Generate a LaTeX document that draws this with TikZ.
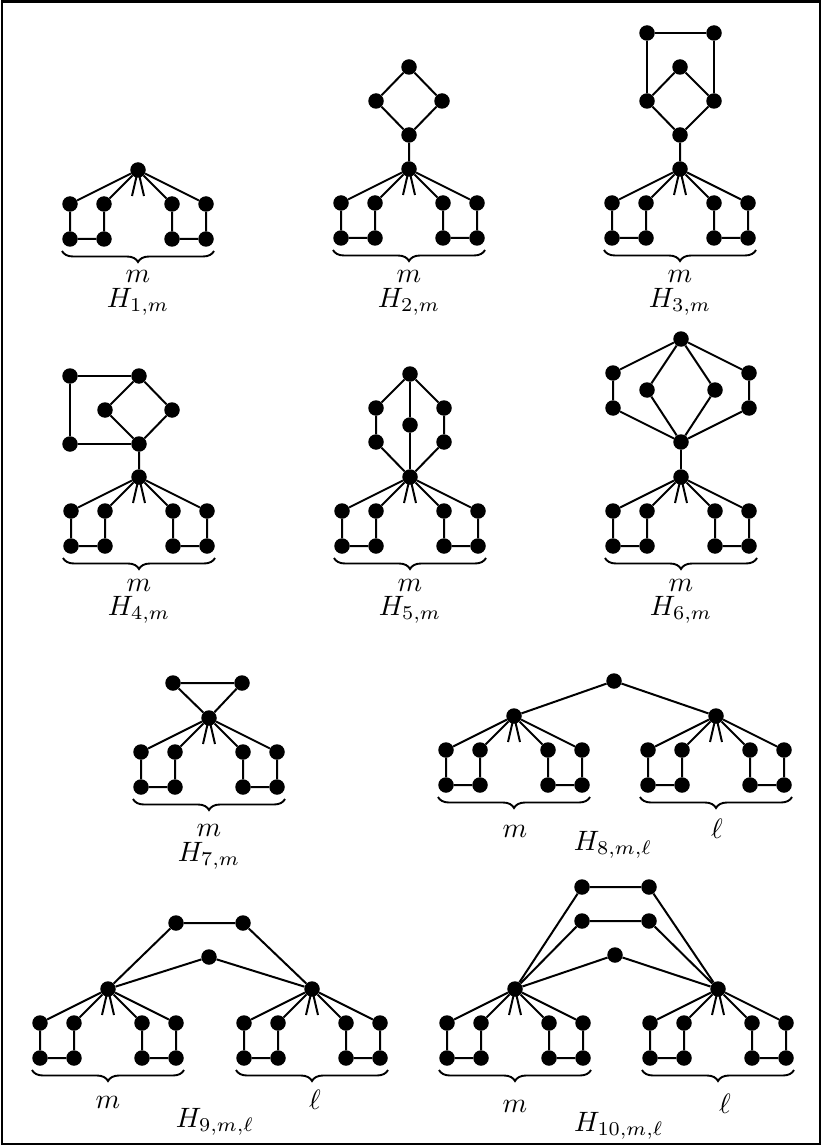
\documentclass[tikz,border=0pt]{standalone}
\usepackage{graphicx}
\usetikzlibrary{decorations.pathreplacing}
% enlarged math labels
\newcommand\biglabel[1]{\scalebox{2.8}{$#1$}}
\begin{document}
\begin{tikzpicture}[x=1pt,y=-1pt,
  dot/.style={circle,fill=black,inner sep=0pt,minimum size=15.5pt},
  edge/.style={line width=2pt},
  bracestyle/.style={decorate,decoration={brace,mirror,amplitude=11pt},line width=1.9pt},
  lbl/.style={inner sep=0pt},
  pics/fan/.style={code={
    \node[dot] (-h) at (0,0) {};
    \foreach \i/\xx in {1/-68,2/-34,3/34,4/68}{
      \node[dot] (-a\i) at (\xx,34) {};
      \node[dot] (-b\i) at (\xx,69) {};
    }
    \draw[edge] (-h) -- (-a1) -- (-b1) -- (-b2) -- (-a2) -- (-h)
                -- (-a3) -- (-b3) -- (-b4) -- (-a4) -- (-h);
    \coordinate (-s1) at (-6,26);
    \coordinate (-s2) at (6,26);
    \draw[edge] (-h.center) -- (-s1) (-h.center) -- (-s2);
    \draw[bracestyle] (-76,81) -- (76,81);
  }}]
\useasboundingbox (0,0) rectangle (823,1147);
\draw[line width=2.2pt] (2,1.5) rectangle (820,1144);

% ---------- H_{1,m}
\pic (f1) at (138,170) {fan};
\node[lbl] (m1) at (138,276) {\biglabel{m}};
\node[lbl] (t1) at (138,302) {\biglabel{H_{1,m}}};

% ---------- H_{2,m}
\pic (f2) at (409,169) {fan};
\node[dot] (d2b) at (409,135) {};
\node[dot] (d2l) at (376,101) {};
\node[dot] (d2r) at (442,101) {};
\node[dot] (d2t) at (409,67) {};
\draw[edge] (f2-h) -- (d2b) -- (d2l) -- (d2t) -- (d2r) -- (d2b);
\node[lbl] (m2) at (409,276) {\biglabel{m}};
\node[lbl] (t2) at (409,302) {\biglabel{H_{2,m}}};

% ---------- H_{3,m}
\pic (f3) at (680,169) {fan};
\node[dot] (d3b) at (680,135) {};
\node[dot] (d3l) at (647,101) {};
\node[dot] (d3r) at (714,101) {};
\node[dot] (d3t) at (680,67) {};
\node[dot] (q3l) at (647,33) {};
\node[dot] (q3r) at (714,33) {};
\draw[edge] (f3-h) -- (d3b) -- (d3l) -- (d3t) -- (d3r) -- (d3b);
\draw[edge] (d3l) -- (q3l) -- (q3r) -- (d3r);
\node[lbl] (m3) at (680,276) {\biglabel{m}};
\node[lbl] (t3) at (680,302) {\biglabel{H_{3,m}}};

% ---------- H_{4,m}
\pic (f4) at (139,477) {fan};
\node[dot] (d4b) at (139,444) {};
\node[dot] (d4l) at (105,410) {};
\node[dot] (d4r) at (172,410) {};
\node[dot] (d4t) at (139,376) {};
\node[dot] (q4t) at (70,376) {};
\node[dot] (q4b) at (70,444) {};
\draw[edge] (f4-h) -- (d4b) -- (d4l) -- (d4t) -- (d4r) -- (d4b);
\draw[edge] (d4t) -- (q4t) -- (q4b) -- (d4b);
\node[lbl] (m4) at (139,585) {\biglabel{m}};
\node[lbl] (t4) at (139,610) {\biglabel{H_{4,m}}};

% ---------- H_{5,m}
\pic (f5) at (410,477) {fan};
\node[dot] (p5t) at (410,374) {};
\node[dot] (p5a) at (376,408) {};
\node[dot] (p5b) at (376,442) {};
\node[dot] (p5m) at (410,425) {};
\node[dot] (p5c) at (444,408) {};
\node[dot] (p5d) at (444,442) {};
\draw[edge] (p5t) -- (p5a) -- (p5b) -- (f5-h);
\draw[edge] (p5t) -- (p5m) -- (f5-h);
\draw[edge] (p5t) -- (p5c) -- (p5d) -- (f5-h);
\node[lbl] (m5) at (410,585) {\biglabel{m}};
\node[lbl] (t5) at (410,610) {\biglabel{H_{5,m}}};

% ---------- H_{6,m}
\pic (f6) at (681,477) {fan};
\node[dot] (p6t) at (681,339) {};
\node[dot] (p6a) at (613,373) {};
\node[dot] (p6b) at (613,408) {};
\node[dot] (p6l) at (647,390) {};
\node[dot] (p6r) at (715,390) {};
\node[dot] (p6c) at (749,373) {};
\node[dot] (p6d) at (749,408) {};
\node[dot] (p6j) at (681,442) {};
\draw[edge] (p6t) -- (p6a) -- (p6b) -- (p6j);
\draw[edge] (p6t) -- (p6l) -- (p6j);
\draw[edge] (p6t) -- (p6r) -- (p6j);
\draw[edge] (p6t) -- (p6c) -- (p6d) -- (p6j);
\draw[edge] (p6j) -- (f6-h);
\node[lbl] (m6) at (681,585) {\biglabel{m}};
\node[lbl] (t6) at (681,610) {\biglabel{H_{6,m}}};

% ---------- H_{7,m}
\pic (f7) at (209,718) {fan};
\node[dot] (k7a) at (173,683) {};
\node[dot] (k7b) at (242,683) {};
\draw[edge] (f7-h) -- (k7a) -- (k7b) -- (f7-h);
\node[lbl] (m7) at (209,830) {\biglabel{m}};
\node[lbl] (t7) at (209,856) {\biglabel{H_{7,m}}};

% ---------- H_{8,m,l}
\pic (f8a) at (514,716) {fan};
\pic (f8b) at (716,716) {fan};
\node[dot] (r8) at (614,681) {};
\draw[edge] (f8a-h) -- (r8) -- (f8b-h);
\node[lbl] (m8) at (515,831) {\biglabel{m}};
\node[lbl] (l8) at (717,829) {\biglabel{\ell}};
\node[lbl] (t8) at (613,845) {\biglabel{H_{8,m,\ell}}};

% ---------- H_{9,m,l}
\pic (f9a) at (108,989) {fan};
\pic (f9b) at (312,989) {fan};
\node[dot] (u9a) at (176,923) {};
\node[dot] (u9b) at (243,923) {};
\node[dot] (v9) at (209,957) {};
\draw[edge] (f9a-h) -- (u9a) -- (u9b) -- (f9b-h);
\draw[edge] (f9a-h) -- (v9) -- (f9b-h);
\node[lbl] (m9) at (108,1102) {\biglabel{m}};
\node[lbl] (l9) at (315,1100) {\biglabel{\ell}};
\node[lbl] (t9) at (215,1122) {\biglabel{H_{9,m,\ell}}};

% ---------- H_{10,m,l}
\pic (f10a) at (515,989) {fan};
\pic (f10b) at (718,989) {fan};
\node[dot] (w10a) at (582,887) {};
\node[dot] (w10b) at (649,887) {};
\node[dot] (u10a) at (582,921) {};
\node[dot] (u10b) at (649,921) {};
\node[dot] (v10) at (615,955) {};
\draw[edge] (f10a-h) -- (w10a) -- (w10b) -- (f10b-h);
\draw[edge] (f10a-h) -- (u10a) -- (u10b) -- (f10b-h);
\draw[edge] (f10a-h) -- (v10) -- (f10b-h);
\node[lbl] (m10) at (515,1106) {\biglabel{m}};
\node[lbl] (l10) at (725,1104) {\biglabel{\ell}};
\node[lbl] (t10) at (619,1126) {\biglabel{H_{10,m,\ell}}};
\end{tikzpicture}
\end{document}
